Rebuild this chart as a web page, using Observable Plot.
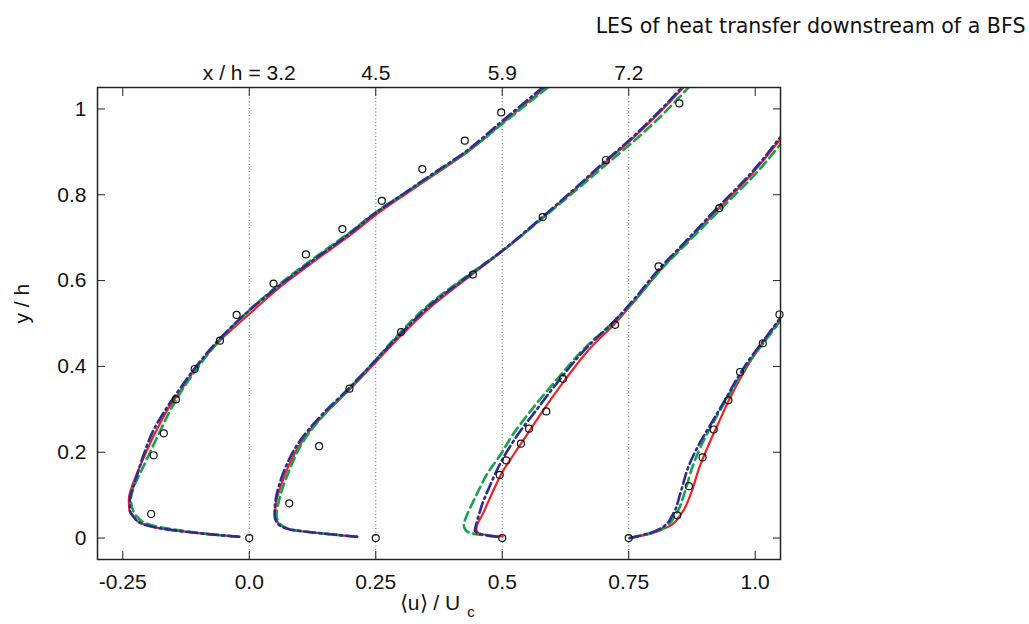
<!DOCTYPE html>
<html>
<head>
<meta charset="utf-8">
<script src="https://cdn.jsdelivr.net/npm/d3@7"></script>
<script src="https://cdn.jsdelivr.net/npm/@observablehq/plot@0.6"></script>
<style>
  html, body { margin: 0; padding: 0; background: #fff; }
  #chart svg { display: block; }
</style>
</head>
<body>
<div id="chart"></div>
<script>
// Station shifts of the profiles on the x axis and their labels (x / h)
const stationOffsets = [0, 0.25, 0.5, 0.75];
const stationLabels = ["x / h = 3.2", "4.5", "5.9", "7.2"];

const xTicks = [-0.25, 0, 0.25, 0.5, 0.75, 1.0];
const xTickLabels = ["-0.25", "0.0", "0.25", "0.5", "0.75", "1.0"];
const yTicks = [0, 0.2, 0.4, 0.6, 0.8, 1];
const yTickLabels = ["0", "0.2", "0.4", "0.6", "0.8", "1"];

// ---- LES profiles: y/h grid and <u>/Uc (unshifted) for each model ----
// Station x/h = 3.2
const s1_y     = [0.003, 0.008, 0.015, 0.025, 0.035, 0.05, 0.065, 0.09, 0.12, 0.15, 0.2, 0.25, 0.3, 0.35, 0.4, 0.46, 0.52, 0.59, 0.65, 0.71, 0.76, 0.8, 0.85, 0.9, 0.97, 1.05];
const s1_red   = [-0.02, -0.07, -0.128, -0.187, -0.215, -0.229, -0.237, -0.238, -0.232, -0.222, -0.204, -0.184, -0.161, -0.132, -0.103, -0.058, -0.002, 0.066, 0.134, 0.204, 0.258, 0.307, 0.37, 0.432, 0.503, 0.585];
const s1_blue  = [-0.02, -0.07, -0.128, -0.187, -0.215, -0.229, -0.236, -0.236, -0.229, -0.221, -0.207, -0.19, -0.165, -0.136, -0.105, -0.062, -0.01, 0.061, 0.129, 0.199, 0.252, 0.302, 0.364, 0.427, 0.498, 0.58];
const s1_green = [-0.02, -0.07, -0.12, -0.175, -0.205, -0.222, -0.23, -0.234, -0.228, -0.216, -0.196, -0.176, -0.155, -0.13, -0.1, -0.06, -0.01, 0.058, 0.125, 0.196, 0.251, 0.302, 0.367, 0.43, 0.505, 0.59];

// Station x/h = 4.5
const s2_y     = [0.003, 0.012, 0.02, 0.034, 0.053, 0.088, 0.127, 0.166, 0.212, 0.251, 0.294, 0.348, 0.41, 0.472, 0.545, 0.614, 0.668, 0.747, 0.817, 0.881, 0.925, 0.98, 1.05];
const s2_red   = [-0.037, -0.116, -0.169, -0.192, -0.199, -0.196, -0.186, -0.173, -0.153, -0.13, -0.097, -0.05, 0.0, 0.05, 0.115, 0.19, 0.25, 0.33, 0.398, 0.459, 0.502, 0.551, 0.608];
const s2_blue  = [-0.037, -0.116, -0.17, -0.194, -0.2, -0.198, -0.19, -0.178, -0.158, -0.134, -0.101, -0.054, -0.004, 0.046, 0.11, 0.187, 0.248, 0.328, 0.396, 0.456, 0.499, 0.548, 0.605];
const s2_green = [-0.037, -0.116, -0.168, -0.19, -0.196, -0.191, -0.181, -0.168, -0.15, -0.128, -0.097, -0.052, -0.004, 0.043, 0.106, 0.184, 0.249, 0.331, 0.402, 0.466, 0.51, 0.561, 0.618];

// Station x/h = 5.9
const s3_y     = [0.003, 0.011, 0.018, 0.03, 0.05, 0.081, 0.12, 0.147, 0.197, 0.243, 0.296, 0.367, 0.445, 0.499, 0.553, 0.627, 0.693, 0.767, 0.848, 0.933, 0.975];
const s3_red   = [0.001, -0.046, -0.051, -0.05, -0.041, -0.029, -0.014, -0.003, 0.024, 0.05, 0.08, 0.123, 0.176, 0.222, 0.262, 0.314, 0.367, 0.427, 0.493, 0.552, 0.58];
const s3_blue  = [-0.01, -0.048, -0.054, -0.052, -0.047, -0.039, -0.025, -0.015, 0.007, 0.032, 0.066, 0.112, 0.168, 0.216, 0.258, 0.31, 0.364, 0.423, 0.49, 0.549, 0.577];
const s3_green = [-0.012, -0.06, -0.072, -0.076, -0.071, -0.059, -0.043, -0.031, -0.002, 0.022, 0.056, 0.106, 0.165, 0.216, 0.261, 0.315, 0.37, 0.432, 0.5, 0.56, 0.588];

// Station x/h = 7.2
const s4_y     = [0, 0.011, 0.026, 0.057, 0.104, 0.166, 0.212, 0.267, 0.321, 0.375, 0.422, 0.46, 0.507, 0.55];
const s4_red   = [0.002, 0.045, 0.078, 0.104, 0.123, 0.14, 0.156, 0.177, 0.198, 0.222, 0.246, 0.268, 0.298, 0.325];
const s4_blue  = [0.002, 0.04, 0.068, 0.088, 0.102, 0.118, 0.136, 0.163, 0.19, 0.216, 0.242, 0.266, 0.296, 0.323];
const s4_green = [0.002, 0.042, 0.072, 0.094, 0.11, 0.126, 0.142, 0.166, 0.192, 0.219, 0.245, 0.27, 0.3, 0.328];

// ---- Experimental data (circles) ----
const e1_y = [0, 0.056, 0.193, 0.244, 0.323, 0.394, 0.46, 0.52, 0.593, 0.661, 0.72, 0.786, 0.86, 0.926, 0.992];
const e1_u = [0, -0.194, -0.189, -0.169, -0.145, -0.108, -0.058, -0.025, 0.048, 0.112, 0.184, 0.262, 0.342, 0.426, 0.498];
const e2_y = [0, 0.081, 0.214, 0.348, 0.48, 0.614, 0.748, 0.881, 1.013];
const e2_u = [0, -0.171, -0.112, -0.052, 0.05, 0.192, 0.33, 0.455, 0.6];
const e3_y = [0, 0.147, 0.181, 0.22, 0.255, 0.295, 0.371, 0.497, 0.633, 0.769];
const e3_u = [0, -0.005, 0.008, 0.037, 0.053, 0.087, 0.12, 0.223, 0.309, 0.429];
const e4_y = [0, 0.053, 0.121, 0.188, 0.253, 0.321, 0.387, 0.454, 0.521];
const e4_u = [0, 0.096, 0.119, 0.146, 0.168, 0.197, 0.22, 0.265, 0.298];

// ---- build tables ----
const profiles = [
  {y: s1_y, red: s1_red, blue: s1_blue, green: s1_green},
  {y: s2_y, red: s2_red, blue: s2_blue, green: s2_green},
  {y: s3_y, red: s3_red, blue: s3_blue, green: s3_green},
  {y: s4_y, red: s4_red, blue: s4_blue, green: s4_green}
];
const experiments = [
  {y: e1_y, u: e1_u}, {y: e2_y, u: e2_u}, {y: e3_y, u: e3_u}, {y: e4_y, u: e4_u}
];

function seriesRows(key) {
  const rows = [];
  profiles.forEach((p, i) => {
    p.y.forEach((yy, j) => rows.push({station: i, x: stationOffsets[i] + p[key][j], y: yy}));
  });
  return rows;
}
const redRows = seriesRows("red");
const blueRows = seriesRows("blue");
const greenRows = seriesRows("green");
const expRows = [];
experiments.forEach((e, i) => e.y.forEach((yy, j) => expRows.push({station: i, x: stationOffsets[i] + e.u[j], y: yy})));

const FONT = "Liberation Sans, Arial, Helvetica, sans-serif";
const FS = 21;
const xFmt = d => xTickLabels[xTicks.indexOf(d)];
const yFmt = d => yTickLabels[yTicks.indexOf(d)];
const topFmt = d => stationLabels[stationOffsets.indexOf(d)];

const chart = Plot.plot({
  width: 1029,
  height: 624,
  marginLeft: 97,
  marginRight: 249,
  marginTop: 87,
  marginBottom: 65,
  style: {fontFamily: FONT, background: "#fff", color: "#111"},
  x: {domain: [-0.3, 1.05], label: null},
  y: {domain: [-0.05, 1.05], label: null},
  marks: [
    Plot.ruleX(stationOffsets, {stroke: "#666", strokeWidth: 1, strokeDasharray: "1,2.5"}),
    Plot.line(redRows, {x: "x", y: "y", z: "station", stroke: "#ee2229", strokeWidth: 2.2, curve: "monotone-y", clip: true}),
    Plot.line(greenRows, {x: "x", y: "y", z: "station", stroke: "#17a24e", strokeWidth: 2.6, strokeDasharray: "9,5", curve: "monotone-y", clip: true}),
    Plot.line(blueRows, {x: "x", y: "y", z: "station", stroke: "#2b2e8f", strokeWidth: 2.6, strokeDasharray: "11,4,2,4", curve: "monotone-y", clip: true}),
    Plot.dot(expRows, {x: "x", y: "y", r: 3.5, stroke: "#111", strokeWidth: 1.2, fill: "none"}),
    Plot.frame({stroke: "#222", strokeWidth: 1.5}),
    // bottom axis: inward ticks + labels
    Plot.axisX({anchor: "bottom", ticks: xTicks, tickSize: -8, tickPadding: 23, tickFormat: xFmt, fontSize: FS, stroke: "#222", fill: "#111", label: null}),
    // top axis: inward ticks only
    Plot.axisX({anchor: "top", ticks: xTicks, tickSize: -8, tickFormat: () => "", stroke: "#222", label: null}),
    // top station labels
    Plot.axisX({anchor: "top", ticks: stationOffsets, tickSize: 0, tickPadding: 8, tickFormat: topFmt, fontSize: FS, fill: "#111", label: null}),
    // left axis
    Plot.axisY({anchor: "left", ticks: yTicks, tickSize: -8, tickPadding: 19, tickFormat: yFmt, fontSize: FS, stroke: "#222", fill: "#111", label: null}),
    // right axis: inward ticks only
    Plot.axisY({anchor: "right", ticks: yTicks, tickSize: -8, tickFormat: () => "", stroke: "#222", label: null}),
    // title and axis labels
    Plot.text(["LES of heat transfer downstream of a BFS"], {frameAnchor: "top-right", dx: 245, dy: -69, textAnchor: "end", fontSize: 20.6, fontFamily: "DejaVu Sans", fill: "#111"}),
    Plot.text(["y / h"], {frameAnchor: "left", dx: -75, rotate: -90, fontSize: FS, fill: "#111"}),
    Plot.text(["\u27E8u\u27E9 / U"], {frameAnchor: "bottom", dx: -9, dy: 50, fontSize: FS, fill: "#111"}),
    Plot.text(["c"], {frameAnchor: "bottom", dx: 32, dy: 57, fontSize: 15, fill: "#111"})
  ]
});
document.getElementById("chart").appendChild(chart);
</script>
</body>
</html>
